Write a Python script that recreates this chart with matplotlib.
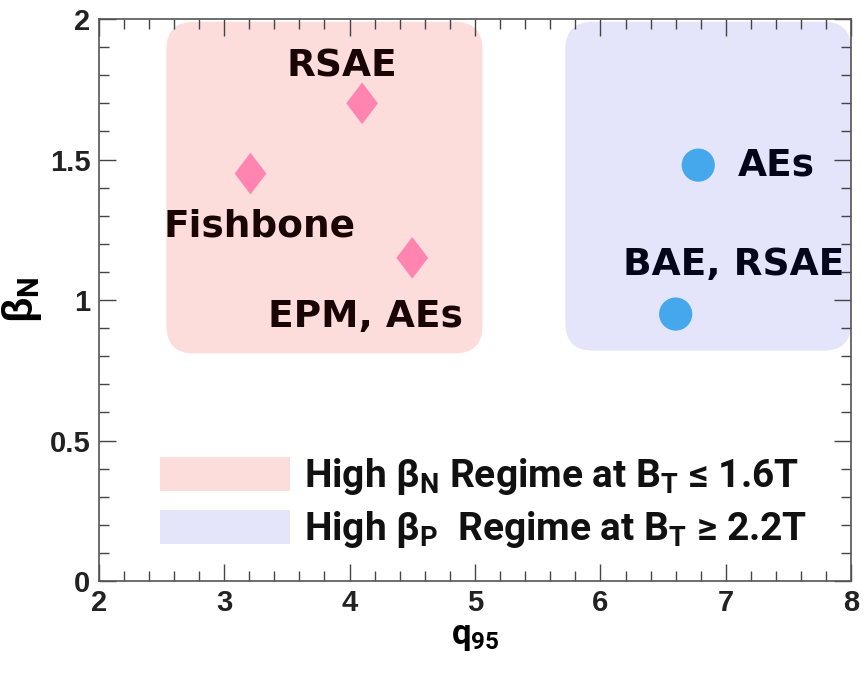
import matplotlib
matplotlib.use("Agg")
import matplotlib.pyplot as plt
from matplotlib.patches import FancyBboxPatch, Patch
from matplotlib.path import Path
from matplotlib.ticker import MultipleLocator

# ---- data ----
diamond_q = [3.21, 4.1, 4.5]
diamond_beta = [1.45, 1.70, 1.15]
circle_q = [6.78, 6.6]
circle_beta = [1.48, 0.95]

label_texts = ["RSAE", "Fishbone", "EPM, AEs", "AEs", "BAE, RSAE"]
label_q = [3.94, 3.28, 4.13, 7.40, 7.06]
label_beta = [1.83, 1.26, 0.94, 1.48, 1.125]

pink_region = (2.54, 0.81, 5.06, 1.99)   # q0, b0, q1, b1
blue_region = (5.72, 0.82, 8.00, 1.99)

legend_labels = [r"High β$_\mathbf{N}$ Regime at B$_\mathbf{T}$ ≤ 1.6T",
                 r"High β$_\mathbf{P}$  Regime at B$_\mathbf{T}$ ≥ 2.2T"]

pink = "#FDDCDC"
lav = "#E4E4FA"
diamond_col = "#FF85B0"
circle_col = "#45A8EC"

plt.rcParams['mathtext.fontset'] = 'custom'
plt.rcParams['mathtext.rm'] = 'Roboto:bold'
plt.rcParams['mathtext.bf'] = 'Roboto:bold'
plt.rcParams['mathtext.it'] = 'Roboto:bold'

fig = plt.figure(figsize=(8.66, 6.79), dpi=100)
ax = fig.add_axes([0.114, 0.1443, 0.869, 0.8277])
ax.set_xlim(2, 8)
ax.set_ylim(0, 2)

asp = (125.3 / 281.0)
for (q0, b0, q1, b1), c in [(pink_region, pink), (blue_region, lav)]:
    p = FancyBboxPatch((q0, b0), q1 - q0, b1 - b0,
                       boxstyle="round,pad=0,rounding_size=0.22",
                       mutation_aspect=asp, fc=c, ec='none', zorder=0.5)
    ax.add_patch(p)

tall_diamond = Path([(0, 0.5), (0.38, 0), (0, -0.5), (-0.38, 0), (0, 0.5)],
                    [Path.MOVETO, Path.LINETO, Path.LINETO, Path.LINETO, Path.CLOSEPOLY])
ax.scatter(diamond_q, diamond_beta, marker=tall_diamond, s=900, c=diamond_col,
           edgecolors='none', zorder=3)
ax.scatter(circle_q, circle_beta, marker='o', s=570, c=circle_col,
           edgecolors='none', zorder=3)

for t, q, b in zip(label_texts, label_q, label_beta):
    col = "#1a0505" if q < 5.5 else "#05051a"
    ax.text(q, b, t, ha='center', va='center', fontsize=27,
            fontweight='bold', family=['DejaVu Sans'], color=col, zorder=4)

ax.xaxis.set_major_locator(MultipleLocator(1))
ax.xaxis.set_minor_locator(MultipleLocator(0.2))
ax.yaxis.set_major_locator(MultipleLocator(0.5))
ax.yaxis.set_minor_locator(MultipleLocator(0.1))
ax.set_yticks([0, 0.5, 1, 1.5, 2])
ax.set_yticklabels(["0", "0.5", "1", "1.5", "2"])
ax.tick_params(which='both', direction='in', top=True, right=True, width=1, color='#444')
ax.tick_params(which='major', length=12)
ax.tick_params(which='minor', length=7)
ax.tick_params(axis='both', labelsize=21, labelcolor='#222', pad=6)
for lab in ax.get_xticklabels() + ax.get_yticklabels():
    lab.set_fontweight('bold')
    lab.set_family('Liberation Sans')
for s in ax.spines.values():
    s.set_color('#555')
    s.set_linewidth(1.2)

ax.set_xlabel(r"q$_\mathbf{95}$", fontsize=25, fontweight='bold',
              family='Roboto', labelpad=2)
ax.set_ylabel(r"β$_\mathbf{N}$", fontsize=30, fontweight='bold',
              family='Liberation Sans', labelpad=4)

handles = [Patch(fc=pink, ec='none'), Patch(fc=lav, ec='none')]
leg = ax.legend(handles, legend_labels, loc='lower left', bbox_to_anchor=(0.081, 0.055),
                borderaxespad=0, borderpad=0,
                frameon=False, prop={'family': 'Roboto', 'weight': 'bold', 'size': 28},
                handlelength=3.34, handleheight=0.98, handletextpad=0.38, labelspacing=0.3)
for t in leg.get_texts():
    t.set_color('#111')

fig.savefig("out.png", dpi=100)
